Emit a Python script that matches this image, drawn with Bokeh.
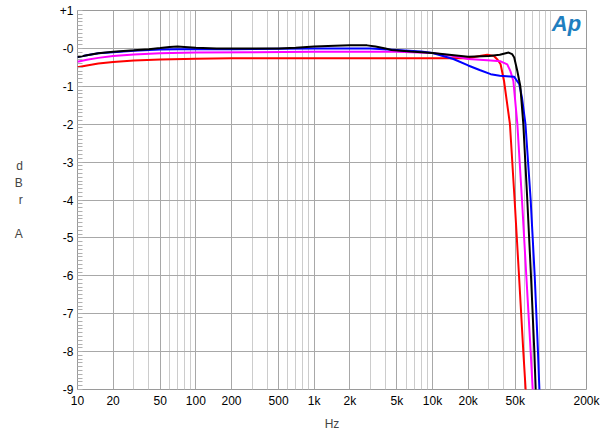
import numpy as np
from bokeh.plotting import figure
from bokeh.models import FixedTicker, Grid, Label
from bokeh.embed import file_html
from bokeh.resources import INLINE

# ---- data ----
black_f = [10, 12, 15, 20, 30, 40, 50, 60, 70, 80, 100, 150, 500, 700, 1000, 1500, 2000, 2800, 3300, 4000, 4500, 6500,
           10000, 20000, 30000, 37000, 44000, 47000, 49000, 52000, 55200, 58500, 63200, 67900, 72500, 74400, 76000]
black_db = [-0.23, -0.18, -0.13, -0.09, -0.05, -0.02, 0.01, 0.04, 0.05, 0.04, 0.02, 0.0, 0.0, 0.02, 0.05, 0.07, 0.08, 0.08,
            0.05, 0.0, -0.04, -0.08,
            -0.12, -0.22, -0.20, -0.17, -0.11, -0.15, -0.24, -0.59, -1.0, -2.0, -4.0, -6.0, -8.0, -9.0, -9.6]

blue_f = [10, 12, 15, 20, 30, 50, 70, 100, 200, 500, 1000, 2000, 3000, 5000, 8000, 10000, 15000, 20000, 25000,
          31000, 37000, 45000, 49000, 54000, 57000, 61000, 67500, 73000, 77800, 80000, 82000]
blue_db = [-0.23, -0.18, -0.13, -0.10, -0.06, -0.03, -0.02, -0.02, -0.02, -0.01, 0.0, 0.0, 0.0, -0.04, -0.08, -0.12,
           -0.28, -0.45, -0.57, -0.68, -0.72, -0.74, -0.75, -0.94, -1.3, -2.0, -4.0, -6.0, -8.0, -9.0, -9.6]

magenta_f = [10, 12, 15, 20, 30, 50, 100, 300, 1000, 5000, 10000, 15000, 20000, 29000, 37600, 42800, 45500,
             48200, 52100, 57000, 62000, 67500, 70200, 72000]
magenta_db = [-0.35, -0.30, -0.25, -0.20, -0.16, -0.13, -0.11, -0.10, -0.09, -0.09, -0.12, -0.20, -0.28, -0.31,
              -0.34, -0.42, -0.60, -0.86, -2.0, -4.0, -6.0, -8.0, -9.0, -9.7]

red_f = [10, 12, 15, 20, 30, 50, 100, 200, 500, 1000, 5000, 10000, 20000, 25000, 29000, 33000, 35500, 37600,
         40200, 45100, 49400, 53800, 58500, 61200, 63000]
red_db = [-0.50, -0.45, -0.40, -0.36, -0.32, -0.29, -0.27, -0.26, -0.26, -0.26, -0.26, -0.26, -0.26, -0.20, -0.17,
          -0.20, -0.30, -0.42, -0.86, -2.0, -4.0, -6.0, -8.0, -9.0, -9.6]

x_label_ticks = [10, 20, 50, 100, 200, 500, 1000, 2000, 5000, 10000, 20000, 50000, 200000]
x_label_text = ["10", "20", "50", "100", "200", "500", "1k", "2k", "5k", "10k", "20k", "50k", "200k"]
y_ticks = list(range(-9, 2))
y_labels = ["-9", "-8", "-7", "-6", "-5", "-4", "-3", "-2", "-1", "-0", "+1"]

FONT = "Liberation Sans"

p = figure(width=600, height=433, x_axis_type="log", x_range=(10, 200000), y_range=(-9, 1),
           output_backend="svg", toolbar_location=None,
           min_border_left=77, min_border_right=14, min_border_top=10, min_border_bottom=44)
p.background_fill_color = "white"
p.border_fill_color = "white"
p.outline_line_color = "#9a9a9a"
p.outline_line_width = 1

# all vertical grid positions (1..9 x decades)
all_v = []
for dec in [10, 100, 1000, 10000, 100000]:
    for m in range(1, 10):
        v = m * dec
        if 10 <= v <= 200000:
            all_v.append(v)
minor_v = [v for v in all_v if v not in x_label_ticks]

# x axis
p.xaxis.ticker = FixedTicker(ticks=x_label_ticks)
p.xaxis.major_label_overrides = {t: s for t, s in zip(x_label_ticks, x_label_text)}
p.xaxis.axis_line_color = None
p.xaxis.major_tick_line_color = None
p.xaxis.minor_tick_line_color = None
p.xaxis.major_tick_out = 0
p.xaxis.major_tick_in = 0
p.xaxis.minor_tick_out = 0
p.xaxis.minor_tick_in = 0
p.xaxis.major_label_text_font = FONT
p.xaxis.major_label_text_font_size = "12px"
p.xaxis.major_label_text_color = "black"
p.xaxis.major_label_standoff = 4
p.xaxis.axis_label = "Hz"
p.xaxis.axis_label_text_font = FONT
p.xaxis.axis_label_text_font_size = "12px"
p.xaxis.axis_label_text_font_style = "normal"
p.xaxis.axis_label_standoff = 6

# y axis
minor_y = [round(-9 + 0.1 * i, 2) for i in range(101)]
p.yaxis.ticker = FixedTicker(ticks=y_ticks, minor_ticks=minor_y)
p.yaxis.major_label_overrides = {t: s for t, s in zip(y_ticks, y_labels)}
p.yaxis.axis_line_color = None
p.yaxis.major_tick_line_color = None
p.yaxis.major_tick_out = 0
p.yaxis.major_tick_in = 0
p.yaxis.minor_tick_in = 5
p.yaxis.minor_tick_out = 0
p.yaxis.minor_tick_line_color = "#b0b0b0"
p.yaxis.major_label_text_font = FONT
p.yaxis.major_label_text_font_size = "12px"
p.yaxis.major_label_text_color = "black"
p.yaxis.major_label_standoff = 4
p.yaxis.axis_label = "d\nB\nr\n\nA"
p.yaxis.axis_label_orientation = "horizontal"
p.yaxis.axis_label_text_font = FONT
p.yaxis.axis_label_text_font_size = "12px"
p.yaxis.axis_label_text_font_style = "normal"
p.yaxis.axis_label_standoff = 34

# grids
p.xgrid.ticker = FixedTicker(ticks=minor_v)
p.xgrid.grid_line_color = "#cccccc"
p.xgrid.grid_line_width = 1
g2 = Grid(dimension=0, ticker=FixedTicker(ticks=x_label_ticks), grid_line_color="#a8a8a8", grid_line_width=1)
p.add_layout(g2)
p.ygrid.ticker = FixedTicker(ticks=y_ticks)
p.ygrid.grid_line_color = "#a8a8a8"

# curves
p.line(red_f, red_db, line_color="#ff0000", line_width=2)
p.line(magenta_f, magenta_db, line_color="#ff00ff", line_width=2)
p.line(blue_f, blue_db, line_color="#0000ff", line_width=2)
p.line(black_f, black_db, line_color="#000000", line_width=2)

# Ap logo
p.add_layout(Label(x=489, y=366, x_units="screen", y_units="screen", text="Ap",
                   text_font=FONT, text_font_size="22px", text_font_style="bold italic",
                   text_color="#1f7fc0", text_align="center", text_baseline="middle"))

open("out.html", "w").write(file_html(p, INLINE))
